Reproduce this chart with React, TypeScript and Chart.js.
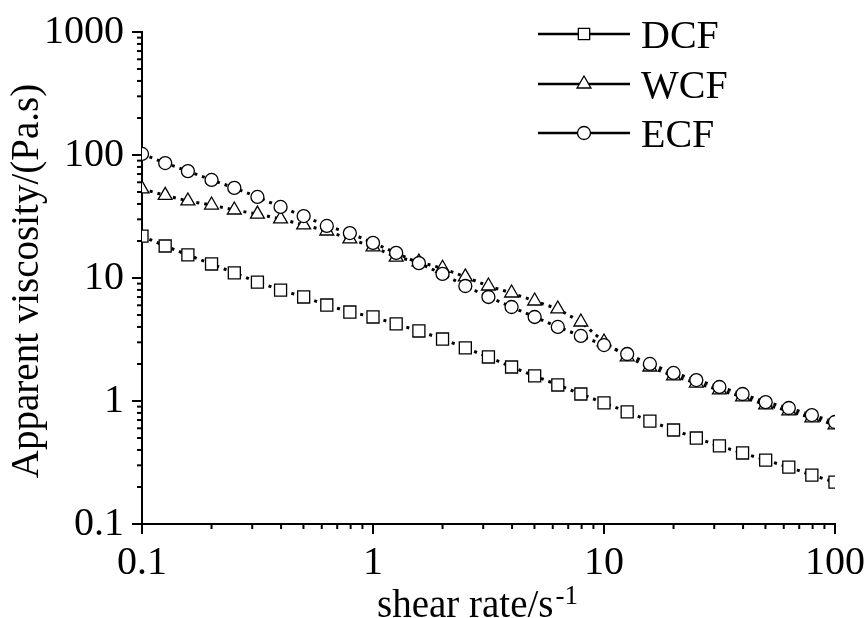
import React, { useEffect, useRef } from 'react';
import { Chart, registerables } from 'chart.js';

Chart.register(...registerables);

const shearRate = [
  0.1, 0.126, 0.158, 0.2, 0.251, 0.316, 0.398, 0.501, 0.631, 0.794,
  1, 1.26, 1.58, 2, 2.51, 3.16, 3.98, 5.01, 6.31, 7.94,
  10, 12.6, 15.8, 20, 25.1, 31.6, 39.8, 50.1, 63.1, 79.4, 100,
];

const dcf = [
  21.9, 18.2, 15.4, 13.0, 11.0, 9.27, 7.98, 7.01, 6.03, 5.29,
  4.82, 4.23, 3.71, 3.19, 2.7, 2.28, 1.89, 1.6, 1.35, 1.14,
  0.964, 0.815, 0.687, 0.581, 0.5, 0.431, 0.378, 0.331, 0.29, 0.25, 0.219,
];

const wcf = [
  53, 47, 42.3, 39.2, 35.7, 33.1, 30.2, 27.0, 24.1, 20.8,
  17.9, 14.8, 13.5, 12.0, 10.2, 8.61, 7.55, 6.5, 5.6, 4.39,
  3.02, 2.28, 1.89, 1.6, 1.4, 1.23, 1.08, 0.93, 0.83, 0.73, 0.64,
];

const ecf = [
  102, 86, 74, 62.7, 54, 45.6, 37.8, 31.9, 26.5, 23.2,
  19.3, 16.0, 13.2, 10.8, 8.61, 7.01, 5.81, 4.82, 4.0, 3.38,
  2.85, 2.41, 2.0, 1.69, 1.48, 1.3, 1.14, 0.98, 0.877, 0.769, 0.675,
];

const seriesNames = ['DCF', 'WCF', 'ECF'];
const seriesMarkers = ['rect', 'triangle', 'circle'];
const markerRadii = [8.5, 8, 6.5];

const xMajorTicks = [0.1, 1, 10, 100];
const yMajorTicks = [0.1, 1, 10, 100, 1000];
const minorMultipliers = [2, 3, 4, 5, 6, 7, 8, 9];

const xTitle = 'shear rate/s';
const xTitleSup = '-1';
const yTitle = 'Apparent viscosity/(Pa.s)';

const FONT = '"Liberation Serif", "Times New Roman", serif';

function buildTicks(majors: number[]) {
  const out: { value: number; major: boolean }[] = [];
  majors.forEach((m, i) => {
    out.push({ value: m, major: true });
    if (i < majors.length - 1) {
      minorMultipliers.forEach((k) => out.push({ value: +(m * k).toPrecision(6), major: false }));
    }
  });
  return out;
}

function drawMarker(ctx: CanvasRenderingContext2D, style: string, x: number, y: number, r: number) {
  ctx.beginPath();
  if (style === 'rect') {
    const s = Math.SQRT1_2 * r;
    ctx.rect(x - s, y - s, 2 * s, 2 * s);
  } else if (style === 'triangle') {
    ctx.moveTo(x, y - r);
    ctx.lineTo(x + r * Math.sin(Math.PI / 3), y + r * 0.5);
    ctx.lineTo(x - r * Math.sin(Math.PI / 3), y + r * 0.5);
    ctx.closePath();
  } else {
    ctx.arc(x, y, r, 0, Math.PI * 2);
  }
  ctx.fillStyle = '#fff';
  ctx.fill();
  ctx.lineWidth = 1.3;
  ctx.strokeStyle = '#000';
  ctx.stroke();
}

const decorPlugin = {
  id: 'decor',
  afterDraw(chart: any) {
    const { ctx, chartArea: a, scales } = chart;
    ctx.save();
    ctx.strokeStyle = '#000';
    ctx.lineWidth = 2;
    // x ticks
    scales.x.ticks.forEach((t: any) => {
      const px = scales.x.getPixelForValue(t.value);
      const len = t.major ? 10 : 5;
      ctx.beginPath();
      ctx.moveTo(px, a.bottom);
      ctx.lineTo(px, a.bottom + len);
      ctx.stroke();
    });
    // y ticks
    scales.y.ticks.forEach((t: any) => {
      const py = scales.y.getPixelForValue(t.value);
      const len = t.major ? 10 : 5;
      ctx.beginPath();
      ctx.moveTo(a.left, py);
      ctx.lineTo(a.left - len, py);
      ctx.stroke();
    });

    ctx.fillStyle = '#000';
    // x title with superscript
    ctx.font = `39px ${FONT}`;
    ctx.textBaseline = 'alphabetic';
    ctx.textAlign = 'left';
    const w = ctx.measureText(xTitle).width;
    ctx.font = `27px ${FONT}`;
    const sw = ctx.measureText(xTitleSup).width;
    const total = w + 2 + sw;
    const cx = (a.left + a.right) / 2 - 11;
    const sx = cx - total / 2;
    ctx.font = `39px ${FONT}`;
    ctx.fillText(xTitle, sx, 617);
    ctx.font = `27px ${FONT}`;
    ctx.fillText(xTitleSup, sx + w + 2, 604);

    // y title
    ctx.save();
    ctx.translate(28, (a.top + a.bottom) / 2 + 3);
    ctx.rotate(-Math.PI / 2);
    ctx.font = `39px ${FONT}`;
    ctx.textAlign = 'center';
    ctx.textBaseline = 'middle';
    ctx.fillText(yTitle, 0, 0);
    ctx.restore();

    // legend
    const lx0 = a.left + 396;
    const lx1 = lx0 + 92;
    const rows = [2, 52, 101];
    seriesNames.forEach((name, i) => {
      const y = a.top + rows[i];
      ctx.beginPath();
      ctx.lineWidth = 2.4;
      ctx.strokeStyle = '#000';
      ctx.moveTo(lx0, y);
      ctx.lineTo(lx1, y);
      ctx.stroke();
      drawMarker(ctx, seriesMarkers[i], (lx0 + lx1) / 2, y, i === 0 ? 8 : markerRadii[i]);
      ctx.fillStyle = '#000';
      ctx.font = `40px ${FONT}`;
      ctx.textAlign = 'left';
      ctx.textBaseline = 'middle';
      ctx.fillText(name, lx1 + 11, y + 3);
    });
    ctx.restore();
  },
};

export default function App() {
  const ref = useRef<HTMLCanvasElement | null>(null);

  useEffect(() => {
    if (!ref.current) return;
    const seriesData = [dcf, wcf, ecf];
    const orders = [2, 1, 0];
    const chart = new Chart(ref.current, {
      type: 'line',
      data: {
        datasets: seriesNames.map((name, i) => ({
          label: name,
          data: shearRate.map((x, j) => ({ x, y: seriesData[i][j] })),
          borderColor: '#000',
          borderWidth: 3,
          borderDash: [3, 5],
          pointStyle: seriesMarkers[i] as any,
          pointRadius: markerRadii[i],
          pointBackgroundColor: '#fff',
          pointBorderColor: '#000',
          pointBorderWidth: 1.3,
          tension: 0,
          fill: false,
          order: orders[i],
        })),
      },
      options: {
        responsive: false,
        animation: false,
        layout: { padding: { left: 0, top: 32, right: 30, bottom: 0 } },
        plugins: {
          legend: { display: false },
          tooltip: { enabled: false },
          title: { display: false },
        },
        scales: {
          x: {
            type: 'logarithmic',
            min: 0.1,
            max: 100,
            afterBuildTicks: (scale: any) => {
              scale.ticks = buildTicks(xMajorTicks);
            },
            afterFit: (scale: any) => {
              scale.height = 94;
              scale.paddingLeft = 0;
              scale.paddingRight = 0;
              scale.paddingTop = 0;
              scale.paddingBottom = 0;
            },
            ticks: {
              autoSkip: false,
              maxRotation: 0,
              padding: 15,
              color: '#000',
              font: { family: FONT, size: 40 },
              callback: (v: any) => (xMajorTicks.includes(Number(v)) ? String(v) : ''),
            },
            grid: { display: true, drawOnChartArea: false, drawTicks: false },
            border: { display: true, color: '#000', width: 2 },
          },
          y: {
            type: 'logarithmic',
            min: 0.1,
            max: 1000,
            afterBuildTicks: (scale: any) => {
              scale.ticks = buildTicks(yMajorTicks);
            },
            afterFit: (scale: any) => {
              scale.width = 142;
              scale.paddingLeft = 0;
              scale.paddingRight = 0;
              scale.paddingTop = 0;
              scale.paddingBottom = 0;
            },
            ticks: {
              autoSkip: false,
              padding: 18,
              color: '#000',
              font: { family: FONT, size: 40 },
              callback: (v: any) => (yMajorTicks.includes(Number(v)) ? String(v) : ''),
            },
            grid: { display: true, drawOnChartArea: false, drawTicks: false },
            border: { display: true, color: '#000', width: 2 },
          },
        },
      },
      plugins: [decorPlugin],
    });
    return () => chart.destroy();
  }, []);

  return (
    <canvas
      ref={ref}
      width={865}
      height={618}
      style={{ position: 'absolute', left: 0, top: 0, background: '#fff' }}
    />
  );
}
